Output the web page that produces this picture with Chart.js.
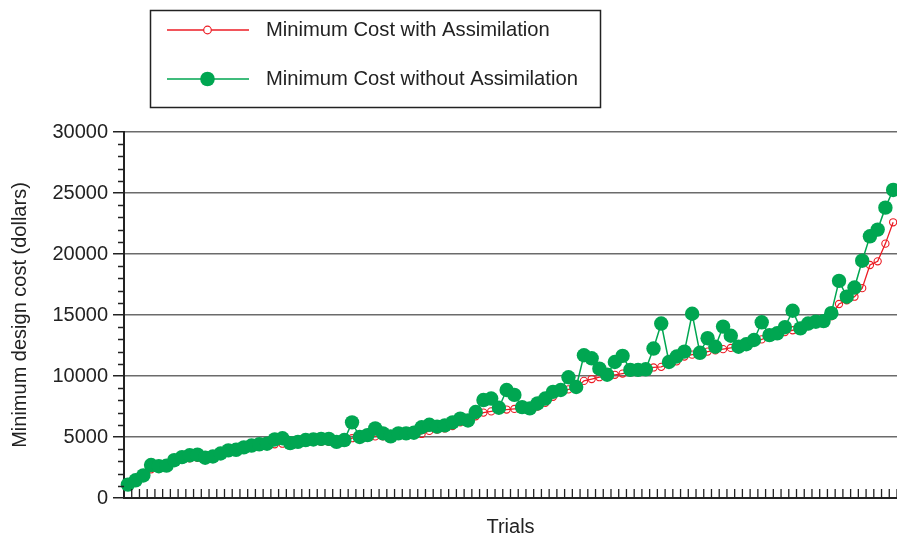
<!DOCTYPE html>
<html>
<head>
<meta charset="utf-8">
<title>Minimum design cost per trial</title>
<script src="https://cdn.jsdelivr.net/npm/chart.js@4.4.1/dist/chart.umd.min.js"></script>
<style>
  html, body { margin: 0; padding: 0; background: #ffffff; }
  #wrap { width: 897px; height: 535px; }
</style>
</head>
<body>
<div id="wrap"><canvas id="chart" width="897" height="535"></canvas></div>
<script>
// Trial numbers (x categories)
const trials = [
  1, 2, 3, 4, 5, 6, 7, 8, 9, 10, 11, 12, 13, 14, 15, 16, 17, 18, 19, 20,
  21, 22, 23, 24, 25, 26, 27, 28, 29, 30, 31, 32, 33, 34, 35, 36, 37, 38, 39, 40,
  41, 42, 43, 44, 45, 46, 47, 48, 49, 50, 51, 52, 53, 54, 55, 56, 57, 58, 59, 60,
  61, 62, 63, 64, 65, 66, 67, 68, 69, 70, 71, 72, 73, 74, 75, 76, 77, 78, 79, 80,
  81, 82, 83, 84, 85, 86, 87, 88, 89, 90, 91, 92, 93, 94, 95, 96, 97, 98, 99, 100
];

// Minimum design cost (dollars) found with assimilation
const costWithAssimilation = [
  1100, 1400, 1800, 2350, 2550, 2600, 3050, 3250, 3250, 3300,
  3300, 3350, 3600, 3850, 3900, 4100, 4250, 4300, 4350, 4400,
  4450, 4500, 4550, 4600, 4600, 4600, 4600, 4600, 4650, 4900,
  4950, 5050, 5050, 5050, 5050, 5100, 5150, 5200, 5250, 5500,
  5600, 5700, 5900, 6200, 6300, 6700, 7000, 7100, 7200, 7250,
  7300, 7300, 7300, 7500, 7800, 8300, 8700, 8900, 9000, 9600,
  9750, 9900, 10000, 10100, 10200, 10300, 10350, 10450, 10700, 10750,
  11000, 11200, 11600, 11750, 11800, 12000, 12100, 12200, 12300, 12350,
  12500, 12800, 13000, 13200, 13350, 13600, 13750, 13850, 14100, 14300,
  14400, 14900, 15900, 16200, 16500, 17200, 19100, 19400, 20850, 22600
];

// Minimum design cost (dollars) found without assimilation
const costWithoutAssimilation = [
  1100, 1450, 1850, 2700, 2600, 2650, 3100, 3350, 3500, 3550,
  3300, 3400, 3650, 3900, 3950, 4150, 4300, 4400, 4450, 4800,
  4900, 4500, 4600, 4750, 4800, 4850, 4850, 4600, 4750, 6200,
  5000, 5150, 5700, 5300, 5050, 5300, 5300, 5350, 5800, 6000,
  5850, 5950, 6200, 6500, 6350, 7050, 8030, 8150, 7400, 8850,
  8450, 7450, 7350, 7750, 8150, 8700, 8850, 9900, 9100, 11700,
  11450, 10600, 10100, 11150, 11650, 10500, 10500, 10550, 12250, 14300,
  11150, 11600, 12000, 15100, 11900, 13100, 12400, 14050, 13300, 12400,
  12600, 12950, 14400, 13350, 13500, 14000, 15350, 13900, 14300, 14450,
  14500, 15150, 17800, 16500, 17250, 19450, 21450, 22000, 23800, 25250
];

// Value axis: labelled every 5000, small marks every 1000
const yMajorStep = 5000;
const yMinorStep = 1000;
const yMax = 30000;

const seriesNames = ['Minimum Cost with Assimilation', 'Minimum Cost without Assimilation'];

const RED = '#ec1c24';
const GREEN = '#00a651';
const INK = '#222222';
const FONT = '"Liberation Sans", Arial, Helvetica, sans-serif';

// Minor y ticks and short upward x ticks at category boundaries
const axisMarks = {
  id: 'axisMarks',
  afterDraw(chart) {
    const ctx = chart.ctx;
    const y = chart.scales.y;
    const x = chart.scales.x;
    ctx.save();
    ctx.strokeStyle = INK;
    ctx.lineWidth = 1.3;
    ctx.beginPath();
    for (let v = yMinorStep; v < yMax; v += yMinorStep) {
      if (v % yMajorStep === 0) continue;
      const py = Math.round(y.getPixelForValue(v)) + 0.5;
      ctx.moveTo(y.right - 6, py);
      ctx.lineTo(y.right, py);
    }
    const step = x.getPixelForValue(1) - x.getPixelForValue(0);
    for (let i = 0; i < trials.length; i++) {
      const px = x.getPixelForValue(i) + step / 2;
      ctx.moveTo(px, x.top);
      ctx.lineTo(px, x.top - 9);
    }
    ctx.stroke();
    ctx.restore();
  }
};

// Boxed legend in the top-left corner
const boxedLegend = {
  id: 'boxedLegend',
  afterDraw(chart) {
    const ctx = chart.ctx;
    ctx.save();
    ctx.strokeStyle = INK;
    ctx.lineWidth = 1.5;
    ctx.strokeRect(150.5, 10.5, 450, 97);

    const rows = [
      { y: 30, color: RED, name: seriesNames[0], open: true },
      { y: 79, color: GREEN, name: seriesNames[1], open: false }
    ];
    rows.forEach(r => {
      ctx.strokeStyle = r.color;
      ctx.lineWidth = 1.5;
      ctx.beginPath();
      ctx.moveTo(167, r.y);
      ctx.lineTo(249, r.y);
      ctx.stroke();
      ctx.beginPath();
      if (r.open) {
        ctx.arc(207.5, r.y, 3.8, 0, Math.PI * 2);
        ctx.fillStyle = '#ffffff';
        ctx.fill();
        ctx.lineWidth = 1.2;
        ctx.stroke();
      } else {
        ctx.arc(207.5, r.y, 7.3, 0, Math.PI * 2);
        ctx.fillStyle = r.color;
        ctx.fill();
      }
      ctx.fillStyle = INK;
      ctx.font = '20.2px ' + FONT;
      ctx.textAlign = 'left';
      ctx.textBaseline = 'middle';
      ctx.fillText(r.name, 266, r.y);
    });
    ctx.restore();
  }
};

new Chart(document.getElementById('chart'), {
  type: 'line',
  data: {
    labels: trials,
    datasets: [
      {
        label: seriesNames[0],
        data: costWithAssimilation,
        borderColor: RED,
        borderWidth: 1.3,
        pointRadius: 3.6,
        pointBorderWidth: 1.1,
        pointBorderColor: RED,
        pointBackgroundColor: 'rgba(255,255,255,0)',
        tension: 0,
        clip: false,
        order: 1
      },
      {
        label: seriesNames[1],
        data: costWithoutAssimilation,
        borderColor: GREEN,
        borderWidth: 1.5,
        pointRadius: 7.2,
        pointBorderWidth: 0,
        pointBackgroundColor: GREEN,
        tension: 0,
        clip: false,
        order: 0
      }
    ]
  },
  options: {
    responsive: false,
    animation: false,
    layout: { autoPadding: false, padding: { top: 132, right: 0, left: 0, bottom: 0 } },
    plugins: {
      legend: { display: false },
      tooltip: { enabled: false }
    },
    scales: {
      x: {
        type: 'category',
        offset: true,
        grid: { display: false },
        border: { display: true, color: INK, width: 2 },
        ticks: { display: false },
        title: {
          display: true,
          text: 'Trials',
          color: INK,
          font: { family: FONT, size: 20, lineHeight: '15px' },
          padding: { top: 0, bottom: 0 }
        },
        afterFit(scale) { scale.height = 37; }
      },
      y: {
        min: 0,
        max: yMax,
        ticks: {
          stepSize: yMajorStep,
          color: INK,
          padding: 5,
          font: { family: FONT, size: 20 },
          callback: v => String(v)
        },
        grid: {
          color: c => (c.tick && c.tick.value === 0) ? 'rgba(0,0,0,0)' : '#6b6b6b',
          lineWidth: 1.5,
          tickColor: INK,
          tickLength: 11
        },
        border: { display: true, color: INK, width: 2 },
        title: {
          display: true,
          text: 'Minimum design cost (dollars)',
          color: INK,
          font: { family: FONT, size: 20, lineHeight: 1.2 },
          padding: { top: 8, bottom: 0 }
        },
        afterFit(scale) { scale.width = 124; }
      }
    }
  },
  plugins: [axisMarks, boxedLegend]
});
</script>
</body>
</html>
